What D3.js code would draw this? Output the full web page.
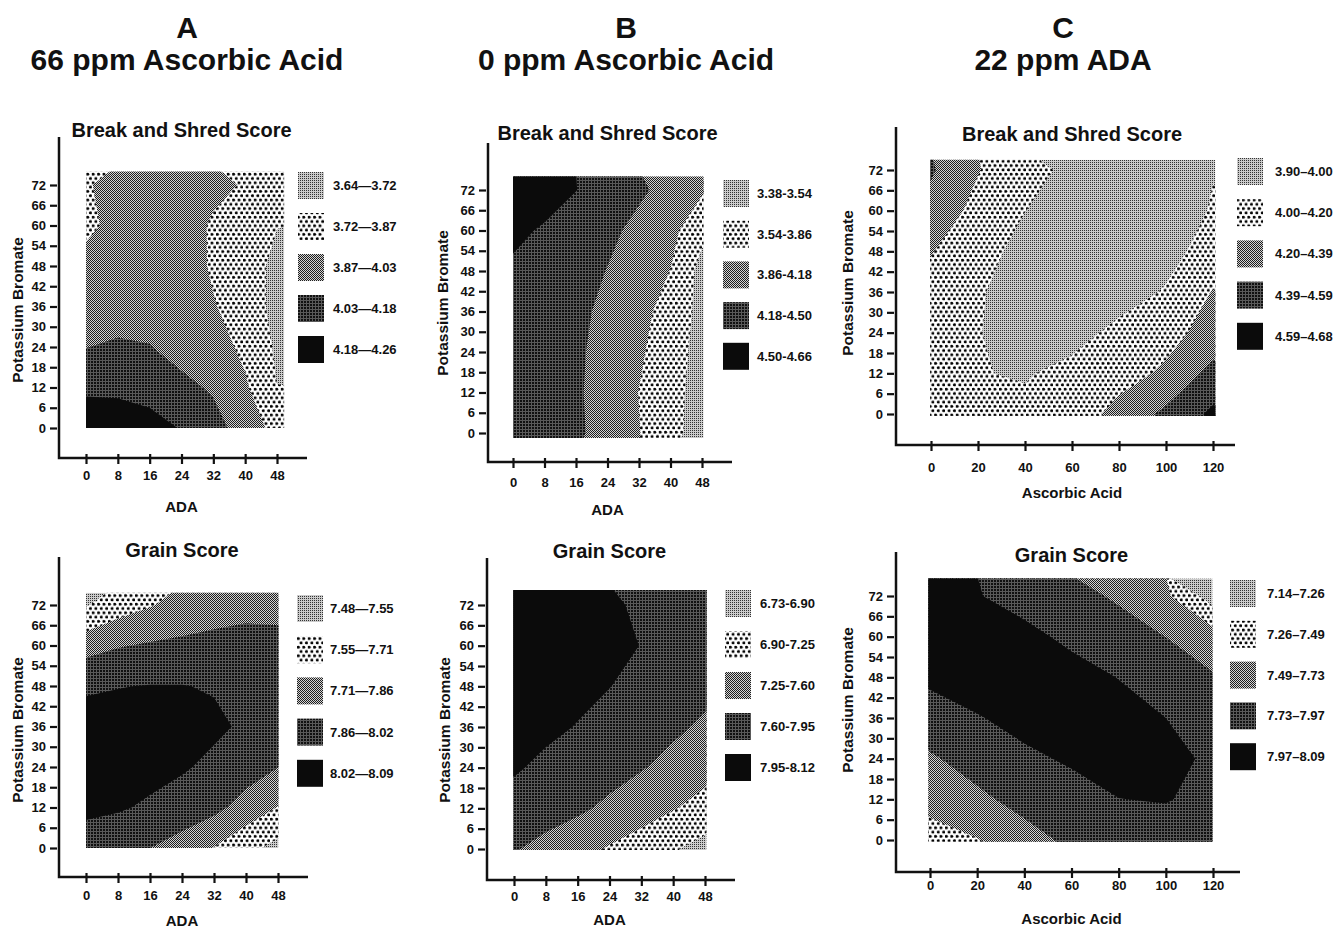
<!DOCTYPE html>
<html>
<head>
<meta charset="utf-8">
<script src="https://cdn.jsdelivr.net/npm/d3@7"></script>
<style>
  body { margin: 0; background: #fff; }
  svg { display: block; font-family: "Liberation Sans", Arial, sans-serif; font-weight: bold; }
  text { fill: #111; }
</style>
</head>
<body>
<div class="container"></div>
<script>
// tick values
const kbrTicks = [0, 6, 12, 18, 24, 30, 36, 42, 48, 54, 60, 66, 72];
const adaTicks = [0, 8, 16, 24, 32, 40, 48];
const aaTicks = [0, 20, 40, 60, 80, 100, 120];

// grid nodes the surfaces were read at
const kbrGrid = [0, 12, 24, 36, 48, 60, 72];
const adaGrid = [0, 8, 16, 24, 32, 40, 48];
const aaGrid = [0, 20, 40, 60, 80, 100, 120];

// class breaks (legend)
const breaksShredA = [3.64, 3.72, 3.87, 4.03, 4.18, 4.26];
const breaksShredB = [3.38, 3.54, 3.86, 4.18, 4.50, 4.66];
const breaksShredC = [3.90, 4.00, 4.20, 4.39, 4.59, 4.68];
const breaksGrainA = [7.48, 7.55, 7.71, 7.86, 8.02, 8.09];
const breaksGrainB = [6.73, 6.90, 7.25, 7.60, 7.95, 8.12];
const breaksGrainC = [7.14, 7.26, 7.49, 7.73, 7.97, 8.09];

// surfaces, rows = KBrO3 0 -> 72, columns = x grid
const shredA = [
  [4.25, 4.235, 4.22, 4.174, 4.09, 3.957, 3.82],
  [4.16, 4.16, 4.14, 4.07, 4.01, 3.89, 3.722],
  [4.027, 4.05, 4.035, 3.974, 3.93, 3.839, 3.699],
  [3.97, 3.965, 3.975, 3.93, 3.875, 3.835, 3.658],
  [3.90, 3.92, 3.93, 3.91, 3.86, 3.82, 3.666],
  [3.85, 3.896, 3.91, 3.90, 3.862, 3.83, 3.725],
  [3.86, 3.907, 3.92, 3.91, 3.885, 3.865, 3.80]
];
const shredB = [
  [4.42, 4.32, 4.235, 4.055, 3.87, 3.637, 3.40],
  [4.45, 4.34, 4.225, 4.04, 3.855, 3.64, 3.42],
  [4.47, 4.36, 4.235, 4.06, 3.90, 3.70, 3.416],
  [4.48, 4.40, 4.26, 4.10, 3.93, 3.77, 3.435],
  [4.485, 4.42, 4.31, 4.17, 4.00, 3.855, 3.435],
  [4.52, 4.49, 4.38, 4.25, 4.10, 3.95, 3.62],
  [4.56, 4.54, 4.505, 4.37, 4.23, 4.08, 3.90]
];
const shredC = [
  [4.10, 4.05, 4.03, 4.10, 4.26, 4.43, 4.63],
  [4.12, 4.005, 3.99, 4.034, 4.13, 4.23, 4.45],
  [4.13, 4.005, 3.95, 3.96, 4.03, 4.14, 4.27],
  [4.14, 4.015, 3.93, 3.92, 3.95, 4.01, 4.21],
  [4.21, 4.07, 3.94, 3.91, 3.92, 3.96, 4.05],
  [4.33, 4.14, 4.002, 3.93, 3.91, 3.93, 4.01],
  [4.41, 4.21, 4.06, 3.96, 3.92, 3.93, 3.995]
];
const grainA = [
  [7.95, 7.92, 7.861, 7.79, 7.705, 7.60, 7.50],
  [8.051, 8.035, 8.00, 7.96, 7.90, 7.80, 7.705],
  [8.075, 8.075, 8.065, 8.035, 7.99, 7.93, 7.862],
  [8.08, 8.085, 8.085, 8.07, 8.045, 8.00, 7.94],
  [8.00, 8.015, 8.025, 8.024, 8.01, 7.97, 7.93],
  [7.80, 7.85, 7.875, 7.89, 7.90, 7.90, 7.89],
  [7.539, 7.64, 7.70, 7.76, 7.80, 7.827, 7.83]
];
const grainB = [
  [7.63, 7.48, 7.36, 7.22, 7.08, 6.93, 6.78],
  [7.86, 7.77, 7.66, 7.53, 7.41, 7.27, 7.13],
  [7.976, 7.90, 7.82, 7.73, 7.62, 7.50, 7.37],
  [8.04, 8.00, 7.94, 7.86, 7.76, 7.66, 7.55],
  [8.08, 8.06, 8.01, 7.955, 7.88, 7.79, 7.69],
  [8.10, 8.09, 8.06, 8.01, 7.945, 7.87, 7.78],
  [8.11, 8.10, 8.06, 7.99, 7.91, 7.83, 7.75]
];
const grainC = [
  [7.38, 7.48, 7.64, 7.78, 7.85, 7.88, 7.87],
  [7.58, 7.68, 7.81, 7.91, 7.968, 7.98, 7.92],
  [7.70, 7.83, 7.94, 7.99, 8.03, 8.02, 7.94],
  [7.88, 7.96, 8.02, 8.06, 8.05, 7.97, 7.86],
  [8.01, 8.05, 8.07, 8.04, 7.965, 7.87, 7.75],
  [8.05, 8.06, 8.02, 7.93, 7.83, 7.728, 7.60],
  [8.00, 7.98, 7.90, 7.80, 7.70, 7.53, 7.15]
];

const headers = [
  {letter: 'A', sub: '66 ppm Ascorbic Acid', x: 187},
  {letter: 'B', sub: '0 ppm Ascorbic Acid', x: 626},
  {letter: 'C', sub: '22 ppm ADA', x: 1063}
];

const panels = [
  {title: 'Break and Shred Score', xName: 'ADA', xTicks: adaTicks, xGrid: adaGrid, z: shredA, breaks: breaksShredA, dash: '\u2014',
   L: {x0: 86, x1: 277, y0: 428, y1: 185, axX: 59, axTop: 137, axY: 458, axRight: 307, titleY: 137, tickY: 480, labY: 512,
       yLabX: 23, yLabCY: 310, lx: 298, ly: 172, ls: 41, lt: 35, rect: [0, 49.8, 0, 76]}},
  {title: 'Break and Shred Score', xName: 'ADA', xTicks: adaTicks, xGrid: adaGrid, z: shredB, breaks: breaksShredB, dash: '-',
   L: {x0: 513, x1: 702, y0: 433, y1: 190, axX: 488, axTop: 143, axY: 462, axRight: 732, titleY: 140, tickY: 487, labY: 515,
       yLabX: 448, yLabCY: 303, lx: 723, ly: 180, ls: 40.7, lt: 34, rect: [0, 48.4, -1.5, 76]}},
  {title: 'Break and Shred Score', xName: 'Ascorbic Acid', xTicks: aaTicks, xGrid: aaGrid, z: shredC, breaks: breaksShredC, dash: '\u2013',
   L: {x0: 931, x1: 1213, y0: 414, y1: 170, axX: 896, axTop: 127, axY: 445, axRight: 1235, titleY: 141, tickY: 472, labY: 498,
       yLabX: 853, yLabCY: 283, lx: 1237, ly: 158, ls: 41.2, lt: 38, rect: [-0.4, 121, -0.6, 75]}},
  {title: 'Grain Score', xName: 'ADA', xTicks: adaTicks, xGrid: adaGrid, z: grainA, breaks: breaksGrainA, dash: '\u2014',
   L: {x0: 86, x1: 278, y0: 848, y1: 605, axX: 59, axTop: 557, axY: 877, axRight: 308, titleY: 557, tickY: 900, labY: 926,
       yLabX: 23, yLabCY: 730, lx: 297, ly: 595, ls: 41.2, lt: 33, rect: [0, 48.1, 0, 75.6]}},
  {title: 'Grain Score', xName: 'ADA', xTicks: adaTicks, xGrid: adaGrid, z: grainB, breaks: breaksGrainB, dash: '-',
   L: {x0: 514, x1: 705, y0: 849, y1: 605, axX: 487, axTop: 558, axY: 880, axRight: 735, titleY: 558, tickY: 901, labY: 925,
       yLabX: 450, yLabCY: 730, lx: 725, ly: 590, ls: 41, lt: 35, rect: [-0.2, 48.4, -0.3, 76.4]}},
  {title: 'Grain Score', xName: 'Ascorbic Acid', xTicks: aaTicks, xGrid: aaGrid, z: grainC, breaks: breaksGrainC, dash: '\u2013',
   L: {x0: 930, x1: 1213, y0: 840, y1: 596, axX: 896, axTop: 552, axY: 872, axRight: 1240, titleY: 562, tickY: 890, labY: 924,
       yLabX: 853, yLabCY: 700, lx: 1230, ly: 580, ls: 40.8, lt: 37, rect: [-0.7, 119.8, -0.5, 77.2]}}
];

const svg = d3.select('.container').append('svg')
  .attr('width', 1342)
  .attr('height', 931);

svg.append('rect').attr('width', 1342).attr('height', 931).attr('fill', '#fff');

const defs = svg.append('defs');

// five screen fills, light -> dark
const fills = [
  {w: 2, h: 2, bg: '#cbcbcb', draw: p => p.append('rect').attr('width', 1).attr('height', 1).attr('fill', '#333')},
  {w: 5.4, h: 8.6, bg: '#fff', draw: p => {
    p.append('circle').attr('cx', 1.35).attr('cy', 2.15).attr('r', 1.55).attr('fill', '#000');
    p.append('circle').attr('cx', 4.05).attr('cy', 6.45).attr('r', 1.55).attr('fill', '#000');
  }},
  {w: 2, h: 2, bg: '#d4d4d4', draw: p => {
    p.append('rect').attr('width', 1).attr('height', 1).attr('fill', '#1e1e1e');
    p.append('rect').attr('x', 1).attr('y', 1).attr('width', 1).attr('height', 1).attr('fill', '#1e1e1e');
  }},
  {w: 3, h: 3, bg: '#111', draw: p => {
    p.append('rect').attr('width', 3).attr('height', 1).attr('fill', '#5a5a5a');
    p.append('rect').attr('width', 1).attr('height', 3).attr('fill', '#5a5a5a');
  }},
  {w: 4, h: 4, bg: '#0b0b0b', draw: () => {}}
];

fills.forEach((f, i) => {
  const p = defs.append('pattern')
    .attr('id', 'fill' + i)
    .attr('patternUnits', 'userSpaceOnUse')
    .attr('width', f.w)
    .attr('height', f.h);
  p.append('rect').attr('width', f.w).attr('height', f.h).attr('fill', f.bg);
  f.draw(p);
});

// column headers
headers.forEach(h => {
  svg.append('text')
    .attr('x', h.x).attr('y', 37.5)
    .attr('text-anchor', 'middle')
    .attr('font-size', 30)
    .text(h.letter);
  svg.append('text')
    .attr('x', h.x).attr('y', 70)
    .attr('text-anchor', 'middle')
    .attr('font-size', 30)
    .text(h.sub);
});

panels.forEach((d, k) => drawPanel(d, k));

function drawPanel(d, k) {
  const L = d.L;
  const xMax = d.xTicks[d.xTicks.length - 1];
  const x = d3.scaleLinear().domain([0, xMax]).range([L.x0, L.x1]);
  const y = d3.scaleLinear().domain([0, 72]).range([L.y0, L.y1]);
  const g = svg.append('g');

  const nx = d.xGrid.length, ny = kbrGrid.length;
  const sx = d.xGrid[1] - d.xGrid[0], sy = kbrGrid[1] - kbrGrid[0];
  const values = [].concat(...d.z);

  // grid coords -> data -> pixels
  const path = d3.geoPath(d3.geoTransform({
    point: function(gx, gy) {
      this.stream.point(x(d.xGrid[0] + (gx - 0.5) * sx), y(kbrGrid[0] + (gy - 0.5) * sy));
    }
  }));

  const r = L.rect;
  defs.append('clipPath').attr('id', 'clip' + k)
    .append('rect')
    .attr('x', x(r[0])).attr('y', y(r[3]))
    .attr('width', x(r[1]) - x(r[0]))
    .attr('height', y(r[2]) - y(r[3]));

  const map = g.append('g').attr('clip-path', `url(#clip${k})`);

  map.append('rect')
    .attr('x', x(r[0])).attr('y', y(r[3]))
    .attr('width', x(r[1]) - x(r[0]))
    .attr('height', y(r[2]) - y(r[3]))
    .attr('fill', 'url(#fill0)');

  const bands = d3.contours()
    .size([nx, ny])
    .thresholds(d.breaks.slice(1, 5))(values);

  map.selectAll('path.band')
    .data(bands)
    .enter().append('path')
      .attr('class', 'band')
      .attr('d', path)
      .attr('fill', (c, i) => `url(#fill${i + 1})`);

  // axis frame
  g.append('path')
    .attr('d', `M${L.axX},${L.axTop}V${L.axY}H${L.axRight}`)
    .attr('fill', 'none')
    .attr('stroke', '#111')
    .attr('stroke-width', 2.5);

  const yAxis = g.append('g')
    .attr('transform', `translate(${L.axX - 2},0)`)
    .call(d3.axisLeft(y).tickValues(kbrTicks).tickSize(7).tickPadding(4));
  yAxis.select('.domain').remove();

  const xAxis = g.append('g')
    .attr('transform', `translate(0,${L.axY - 4})`)
    .call(d3.axisBottom(x).tickValues(d.xTicks).tickSize(10));
  xAxis.select('.domain').remove();
  xAxis.selectAll('text')
    .attr('y', L.tickY - (L.axY - 4))
    .attr('dy', null);

  g.selectAll('.tick line').attr('stroke', '#111').attr('stroke-width', 2.2);
  g.selectAll('.tick text')
    .attr('fill', '#111')
    .attr('font-family', '"Liberation Sans", Arial, sans-serif')
    .attr('font-weight', 'bold')
    .attr('font-size', 13);

  g.append('text')
    .attr('x', x(xMax / 2)).attr('y', L.titleY)
    .attr('text-anchor', 'middle')
    .attr('font-size', 20)
    .text(d.title);

  g.append('text')
    .attr('x', x(xMax / 2)).attr('y', L.labY)
    .attr('text-anchor', 'middle')
    .attr('font-size', 15)
    .text(d.xName);

  g.append('text')
    .attr('transform', `translate(${L.yLabX},${L.yLabCY}) rotate(-90)`)
    .attr('text-anchor', 'middle')
    .attr('font-size', 15.5)
    .text('Potassium Bromate');

  // legend, lightest class on top
  const legend = g.append('g').attr('class', 'key');
  const classes = d3.range(5).map(i => ({i, lab: d.breaks[i].toFixed(2) + d.dash + d.breaks[i + 1].toFixed(2)}));

  legend.selectAll('rect')
    .data(classes)
    .enter().append('rect')
      .attr('x', L.lx)
      .attr('y', c => L.ly + c.i * L.ls)
      .attr('width', 26)
      .attr('height', 27)
      .attr('fill', c => `url(#fill${c.i})`);

  legend.selectAll('text')
    .data(classes)
    .enter().append('text')
      .attr('x', L.lx + L.lt)
      .attr('y', c => L.ly + c.i * L.ls + 18)
      .attr('font-size', 13)
      .text(c => c.lab);
}
</script>
</body>
</html>
